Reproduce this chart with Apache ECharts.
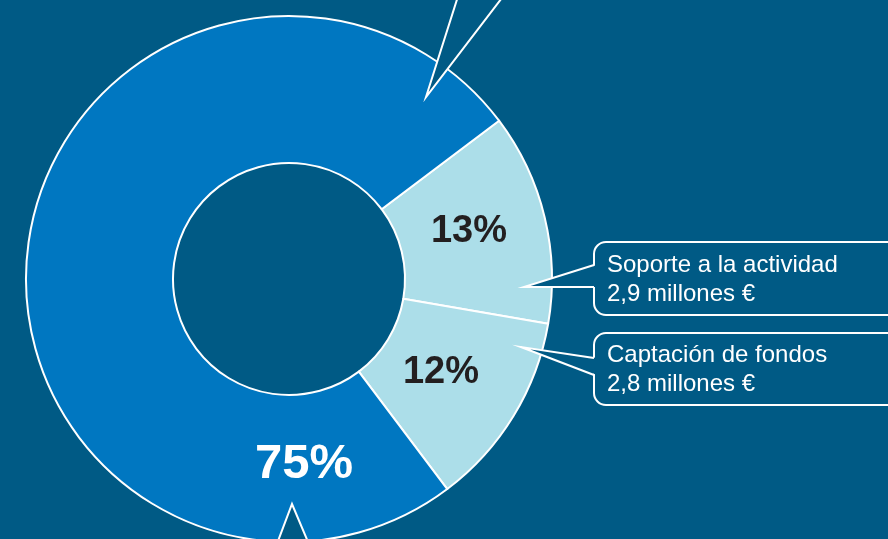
<!DOCTYPE html>
<html>
<head>
<meta charset="utf-8">
<script src="https://cdn.jsdelivr.net/npm/echarts@6/dist/echarts.min.js"></script>
<style>
  html, body { margin:0; padding:0; background:#005a85; }
  #chart_con { width:888px; height:539px; }
</style>
</head>
<body>
<div id="chart_con"></div>
<script>
// datos
var names = ['Soporte a la actividad', 'Captación de fondos', 'Resto'];
var values = [13, 12, 75];
var amounts = ['2,9 millones €', '2,8 millones €', ''];
var colors = ['#acdee9', '#acdee9', '#0077c1'];

var bg = '#005a85';
var cx = 289, cy = 279;
// posiciones de las etiquetas de porcentaje
var labelPos = [[469, 232], [441, 373], [304, 464]];

var pieData = values.map(function (v, i) {
  return {
    name: names[i],
    value: v,
    itemStyle: { color: colors[i] },
    label: i == 2
      ? { color: '#fff', fontSize: 49 }
      : { color: '#231f20', fontSize: 38 }
  };
});

// bocadillo: caja redondeada + punta
function callout(y, h, tip, base1, base2, lines) {
  var x = 594;
  return [
    {
      type: 'rect', z: 10,
      shape: { x: x, y: y, width: 330, height: h, r: 12 },
      style: { fill: bg, stroke: '#fff', lineWidth: 2 }
    },
    {
      type: 'polygon', z: 11,
      shape: { points: [[x + 3, base1], tip, [x + 3, base2]] },
      style: { fill: bg, stroke: null }
    },
    {
      type: 'polyline', z: 12,
      shape: { points: [[x, base1], tip, [x, base2]] },
      style: { fill: null, stroke: '#fff', lineWidth: 2 }
    },
    {
      type: 'text', z: 13,
      x: 607, y: y + h / 2 + 1,
      style: {
        text: lines.join('\n'),
        fill: '#fff',
        font: '24px "Liberation Sans", Arial, sans-serif',
        lineHeight: 29,
        verticalAlign: 'middle',
        align: 'left'
      }
    }
  ];
}

var graphics = []
  .concat(callout(242, 73, [524, 287], 265, 287, [names[0], amounts[0]]))
  .concat(callout(333, 72, [521, 347], 358, 375, [names[1], amounts[1]]))
  .concat([
    {
      type: 'polygon', z: 11,
      shape: { points: [[460, -10], [426, 97], [508, -10]] },
      style: { fill: bg, stroke: '#fff', lineWidth: 2 }
    },
    {
      type: 'polygon', z: 11,
      shape: { points: [[275, 549], [292, 504], [311, 549]] },
      style: { fill: bg, stroke: '#fff', lineWidth: 2 }
    }
  ]);

var option = {
  backgroundColor: bg,
  animation: false,
  graphic: graphics,
  series: [
    {
      type: 'pie',
      center: [cx, cy],
      radius: [116, 263],
      startAngle: 37,
      clockwise: true,
      avoidLabelOverlap: false,
      itemStyle: { borderColor: '#fff', borderWidth: 2 },
      label: {
        show: true,
        position: 'inside',
        fontFamily: '"Liberation Sans", Arial, sans-serif',
        fontWeight: 'bold',
        formatter: function (p) { return p.value + '%'; }
      },
      labelLine: { show: false },
      labelLayout: function (p) {
        var pos = labelPos[p.dataIndex];
        return { x: pos[0], y: pos[1], align: 'center', verticalAlign: 'middle' };
      },
      emphasis: { disabled: true },
      data: pieData
    }
  ]
};

var myChart = echarts.init(document.getElementById('chart_con'));
myChart.setOption(option);
</script>
</body>
</html>
